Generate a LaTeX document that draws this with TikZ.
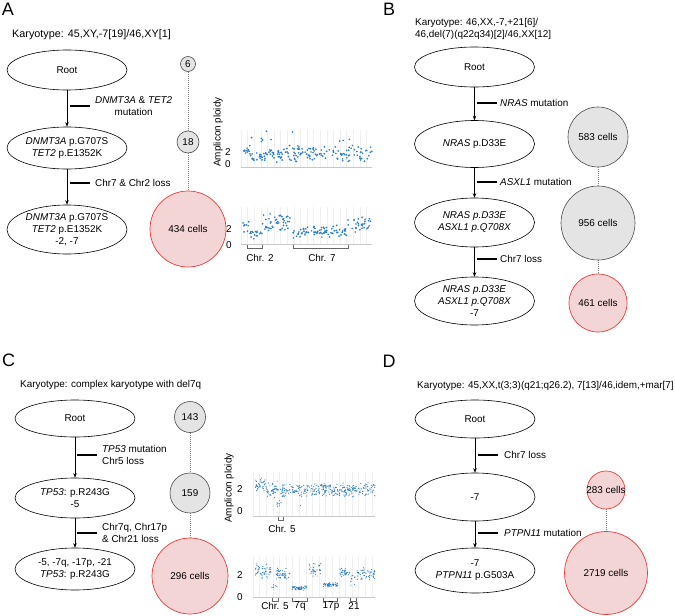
\documentclass[tikz,border=0pt]{standalone}
\usepackage{fontspec}
\setmainfont{Liberation Sans}
\usetikzlibrary{shapes.geometric,arrows.meta}
\definecolor{redc}{HTML}{EE3B3B}
\definecolor{pinkc}{HTML}{F4D5D5}
\definecolor{greyc}{HTML}{E4E4E4}
\definecolor{dotc}{HTML}{2A7DC4}
\definecolor{gridc}{HTML}{F0F0F0}
\definecolor{axc}{HTML}{C8C8C8}
\newcommand\scatseg[6]{%
  \foreach \k in {1,...,#5}{%
    \pgfmathsetmacro\sxx{#1+(#2-#1)*rnd}%
    \pgfmathsetmacro\syy{#3+#4*(rand+rand)/2}%
    \fill[dotc] (\sxx,\syy) circle[radius=#6];%
  }%
}
\newcommand\chrbrk[3]{\draw[brk] (#1,#3-2) -- (#1,#3+1) -- (#2,#3+1) -- (#2,#3-2);}
\newcommand\plotgrid[4]{%
  \pgfmathtruncatemacro\gn{(#2-#1)/6.6}%
  \foreach \gi in {0,...,\gn}{\draw[gridc,line width=0.4pt] (#1+6.6*\gi,#3) -- (#1+6.6*\gi,#4);}%
  \draw[ax] (#1,#4) -- (#2,#4);%
}
\tikzset{
 ftxt/.style={font=\fontsize{9.9}{12}\selectfont},
 txt/.style={ftxt, inner sep=0pt},
 ell/.style={ellipse, draw, line width=0.6pt, minimum width=120pt, inner sep=0pt, align=center, ftxt},
 conn/.style={-{Stealth[length=4.5pt,width=3.5pt]}, line width=0.6pt},
 bar/.style={line width=2pt},
 greyball/.style={circle, draw=black!70, fill=greyc, line width=0.6pt, inner sep=0pt},
 redball/.style={circle, draw=redc, fill=pinkc, line width=0.7pt, inner sep=0pt},
 dotl/.style={gray, line width=0.5pt, dash pattern=on 1pt off 1pt},
 letter/.style={font=\fontsize{18}{18}\selectfont, inner sep=0pt},
 ax/.style={axc, line width=0.6pt},
 brk/.style={black!60, line width=0.5pt},
}
\begin{document}
\begin{tikzpicture}[x=1pt,y=-1pt]
\useasboundingbox[fill=white] (0,0) rectangle (675,616);
\pgfmathsetseed{7}
% ================= Panel A =================
\node[letter] (LA) at (8,9) {A};
\node[txt, anchor=west, font=\fontsize{10.8}{12}\selectfont] (kA) at (12,35) {Karyotype: 45,XY,-7[19]/46,XY[1]};
\node[ell, minimum height=40pt] (a1) at (67,70) {Root};
\node[ell, minimum height=42pt] (a2) at (67,148) {\textit{DNMT3A} p.G707S\\\textit{TET2} p.E1352K};
\node[ell, minimum height=49pt] (a3) at (67,229.5) {\textit{DNMT3A} p.G707S\\\textit{TET2} p.E1352K\\-2, -7};
\draw[conn] (a1) -- (a2);
\draw[conn] (a2) -- (a3);
\node[txt, anchor=west, align=center] (la1) at (95,106) {\textit{DNMT3A} \& \textit{TET2}\\mutation};
\draw[bar] ([xshift=-5pt]la1.west) -- ++(-20pt,0pt);
\node[txt, anchor=west] (la2) at (95,183) {Chr7 \& Chr2 loss};
\draw[bar] ([xshift=-5pt]la2.west) -- ++(-20pt,0pt);
\node[greyball, minimum size=15pt] (a6) at (188,64) {};
\node[txt] (a6t) at (a6) {6};
\node[greyball, minimum size=22pt] (a18) at (188,142) {};
\node[txt] (a18t) at (a18) {18};
\node[redball, minimum size=76pt] (a434) at (188,229) {};
\node[txt] (a434t) at (a434) {434 cells};
\draw[dotl] (a6) -- (a18);
\draw[dotl] (a18) -- (a434);
% plots A
\plotgrid{241}{372}{130}{167}
\plotgrid{241}{372}{207}{244}
\node[txt, rotate=90] (ylA) at (218,132) {Amplicon ploidy};
\node[txt] (tA2) at (228,152) {2};
\node[txt] (tA0) at (228,164) {0};
\node[txt] (tB2) at (229,229) {2};
\node[txt] (tB0) at (229,245) {0};
\scatseg{243}{250}{150}{6}{10}{0.95pt}
\scatseg{250}{265}{157}{5}{22}{0.95pt}
\scatseg{265}{372}{153}{10}{140}{0.95pt}
\scatseg{243}{372}{141}{14}{15}{0.95pt}
\scatseg{243}{249}{226}{7}{8}{0.95pt}
\scatseg{249}{262}{233}{6}{18}{0.95pt}
\scatseg{262}{290}{222}{11}{45}{0.95pt}
\scatseg{293}{348}{232}{7}{75}{0.95pt}
\scatseg{348}{372}{224}{10}{30}{0.95pt}
\chrbrk{247}{262}{247}
\chrbrk{293}{348}{247}
\node[txt] (cA2) at (260,258) {Chr. 2};
\node[txt] (cA7) at (322,258) {Chr. 7};
% ================= Panel B =================
\node[letter] (LB) at (389,9) {B};
\node[txt, anchor=west, align=left] (kB) at (415,28.5) {Karyotype: 46,XX,-7,+21[6]/\\46,del(7)(q22q34)[2]/46,XX[12]};
\node[ell, minimum height=40pt] (b1) at (474.5,67) {Root};
\node[ell, minimum height=47pt] (b2) at (474.5,144) {\textit{NRAS} p.D33E};
\node[ell, minimum height=49pt] (b3) at (474.5,222.5) {\textit{NRAS p.D33E}\\\textit{ASXL1 p.Q708X}};
\node[ell, minimum height=48pt] (b4) at (474.5,301) {\textit{NRAS p.D33E}\\\textit{ASXL1 p.Q708X}\\-7};
\draw[conn] (b1) -- (b2);
\draw[conn] (b2) -- (b3);
\draw[conn] (b3) -- (b4);
\node[txt, anchor=west] (lb1) at (500,103) {\textit{NRAS} mutation};
\draw[bar] ([xshift=-3pt]lb1.west) -- ++(-20pt,0pt);
\node[txt, anchor=west] (lb2) at (500,182) {\textit{ASXL1} mutation};
\draw[bar] ([xshift=-3pt]lb2.west) -- ++(-20pt,0pt);
\node[txt, anchor=west] (lb3) at (500,259) {Chr7 loss};
\draw[bar] ([xshift=-3pt]lb3.west) -- ++(-20pt,0pt);
\node[greyball, minimum size=60pt] (b583) at (598,137) {};
\node[txt] (b583t) at (b583) {583 cells};
\node[greyball, minimum size=74pt] (b956) at (598,223) {};
\node[txt] (b956t) at (b956) {956 cells};
\node[redball, minimum size=58pt] (b461) at (598,303) {};
\node[txt] (b461t) at (b461) {461 cells};
\draw[dotl] (b583) -- (b956);
\draw[dotl] (b956) -- (b461);
% ================= Panel C =================
\node[letter] (LC) at (8.5,360) {C};
\node[txt, anchor=west] (kC) at (20,385) {Karyotype: complex karyotype with del7q};
\node[ell, minimum height=37pt] (c1) at (75,418.5) {Root};
\node[ell, minimum height=40pt] (c2) at (75,498) {\textit{TP53}: p.R243G\\-5};
\node[ell, minimum height=42pt] (c3) at (75,569) {-5, -7q, -17p, -21\\\textit{TP53}: p.R243G};
\draw[conn] (c1) -- (c2);
\draw[conn] (c2) -- (c3);
\node[txt, anchor=west, align=left] (lc1) at (102,455) {\textit{TP53} mutation\\Chr5 loss};
\draw[bar] ([xshift=-5pt]lc1.west) -- ++(-20pt,0pt);
\node[txt, anchor=west, align=left] (lc2) at (102,533) {Chr7q, Chr17p\\\& Chr21 loss};
\draw[bar] ([xshift=-5pt]lc2.west) -- ++(-20pt,0pt);
\node[greyball, minimum size=31pt] (c143) at (190,417) {};
\node[txt] (c143t) at (c143) {143};
\node[greyball, minimum size=40pt] (c159) at (190,493) {};
\node[txt] (c159t) at (c159) {159};
\node[redball, minimum size=76pt] (c296) at (190,576) {};
\node[txt] (c296t) at (c296) {296 cells};
\draw[dotl] (c143) -- (c159);
\draw[dotl] (c159) -- (c296);
% plots C
\plotgrid{253}{375}{472}{516}
\plotgrid{253}{375}{556}{597}
\node[txt, rotate=90] (ylC) at (229,488) {Amplicon ploidy};
\node[txt] (tC2) at (240,489) {2};
\node[txt] (tC0) at (240,511) {0};
\node[txt] (tD2) at (240,575) {2};
\node[txt] (tD0) at (240,597) {0};
\scatseg{255}{266}{484}{7}{35}{0.6pt}
\scatseg{266}{375}{490}{8}{330}{0.6pt}
\scatseg{277}{281}{504}{4}{9}{0.6pt}
\scatseg{255}{375}{494}{20}{8}{0.6pt}
\scatseg{255}{271}{571}{8}{50}{0.6pt}
\scatseg{271}{278}{586}{3}{6}{0.6pt}
\scatseg{275}{290}{574}{7}{45}{0.6pt}
\scatseg{292}{307}{588}{2.5}{50}{0.6pt}
\scatseg{309}{321}{570}{8}{35}{0.6pt}
\scatseg{323}{338}{585}{2.5}{50}{0.6pt}
\scatseg{340}{350}{573}{7}{30}{0.6pt}
\scatseg{350}{356}{580}{7}{10}{0.6pt}
\scatseg{357}{375}{574}{7}{50}{0.6pt}
\chrbrk{278}{283}{519}
\node[txt] (cC5) at (282,529) {Chr. 5};
\chrbrk{272}{278}{600}
\chrbrk{292}{307}{600}
\chrbrk{323}{337}{600}
\chrbrk{350}{356}{600}
\node[txt] (cD5) at (275,606) {Chr. 5};
\node[txt] (cD7) at (300,606) {7q};
\node[txt] (cD17) at (331,606) {17p};
\node[txt] (cD21) at (354,606) {21};
% ================= Panel D =================
\node[letter] (LD) at (389,361) {D};
\node[txt, anchor=west] (kD) at (417,386) {Karyotype: 45,XX,t(3;3)(q21;q26.2), 7[13]/46,idem,+mar[7]};
\node[ell, minimum height=38pt] (d1) at (475,419) {Root};
\node[ell, minimum height=48pt] (d2) at (475,497) {-7};
\node[ell, minimum height=45pt] (d3) at (475,570.5) {-7\\\textit{PTPN11} p.G503A};
\draw[conn] (d1) -- (d2);
\draw[conn] (d2) -- (d3);
\node[txt, anchor=west] (ld1) at (504,455) {Chr7 loss};
\draw[bar] ([xshift=-6pt]ld1.west) -- ++(-20pt,0pt);
\node[txt, anchor=west] (ld2) at (504,533) {\textit{PTPN11} mutation};
\draw[bar] ([xshift=-6pt]ld2.west) -- ++(-20pt,0pt);
\node[redball, minimum size=38pt] (d283) at (606,490) {};
\node[txt] (d283t) at (d283) {283 cells};
\node[redball, minimum size=83pt] (d2719) at (606,573) {};
\node[txt] (d2719t) at (d2719) {2719 cells};
\draw[dotl] (d283) -- (d2719);
\end{tikzpicture}
\end{document}
